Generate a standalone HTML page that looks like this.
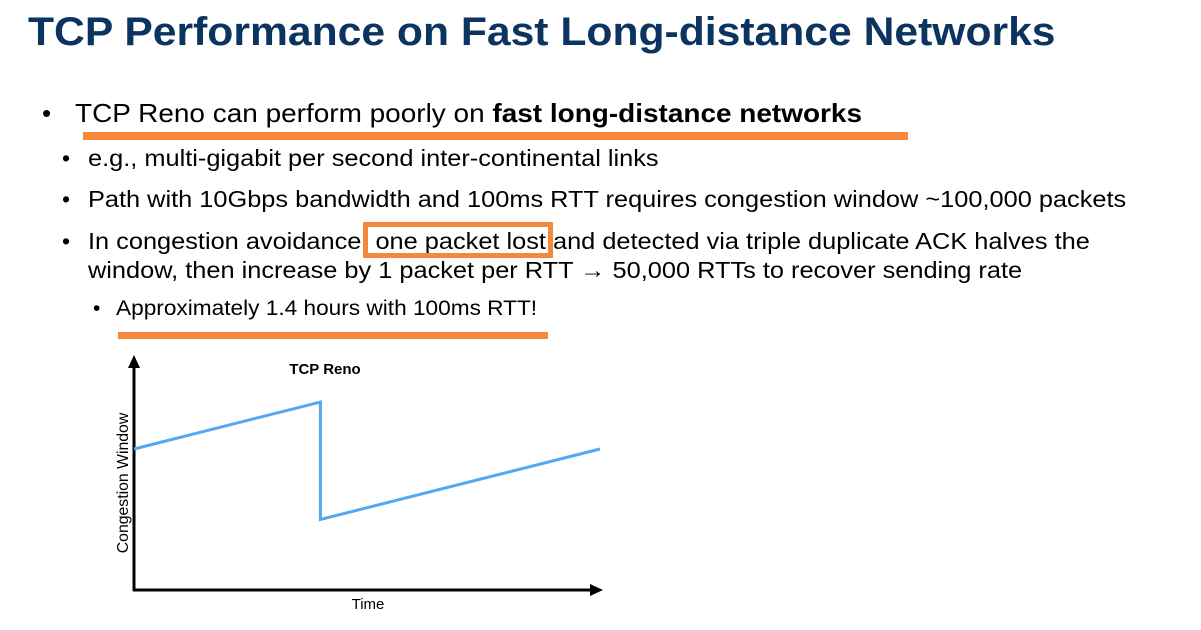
<!DOCTYPE html>
<html><head><meta charset="utf-8">
<style>
body{margin:0;width:1201px;height:630px;background:#fff;position:relative;overflow:hidden;font-family:"Liberation Sans",Arial,sans-serif;color:#000}
.a{position:absolute;white-space:nowrap;transform-origin:0 0}
.t{left:28px;top:10px;font-size:40px;font-weight:bold;color:#0b3560;transform:scaleX(1.066)}
.l1{font-size:26px;transform:scaleX(1.075)}
.l2{font-size:23px;transform:scaleX(1.102)}
.l3{font-size:21px;transform:scaleX(1.078)}
.bar{position:absolute;background:#f5883a}
</style></head><body>
<div class="a t">TCP Performance on Fast Long-distance Networks</div>

<div class="a" style="left:42px;top:98px;font-size:26px">•</div>
<div class="a l1" style="left:75px;top:98px">TCP Reno can perform poorly on <b>fast long-distance networks</b></div>
<div class="bar" style="left:83px;top:132px;width:825px;height:8px"></div>

<div class="a" style="left:62px;top:145px;font-size:23px">•</div>
<div class="a l2" style="left:88px;top:145px">e.g., multi-gigabit per second inter-continental links</div>
<div class="a" style="left:62px;top:186px;font-size:23px">•</div>
<div class="a l2" style="left:88px;top:186px">Path with 10Gbps bandwidth and 100ms RTT requires congestion window ~100,000 packets</div>
<div class="a" style="left:62px;top:228px;font-size:23px">•</div>
<div class="a l2" style="left:88px;top:228px">In congestion avoidance&nbsp; one packet lost and detected via triple duplicate ACK halves the</div>
<div class="a l2" style="left:88px;top:257px">window, then increase by 1 packet per RTT → 50,000 RTTs to recover sending rate</div>
<div style="position:absolute;left:363px;top:222px;width:180px;height:26px;border:5px solid #f5883a"></div>

<div class="a" style="left:93px;top:297px;font-size:21px">•</div>
<div class="a l3" style="left:116px;top:297px">Approximately 1.4 hours with 100ms RTT!</div>
<div class="bar" style="left:118px;top:332px;width:430px;height:7px"></div>

<svg id="chart" style="position:absolute;left:0;top:0" width="1201" height="630">
<text x="325" y="374" font-size="15" font-weight="bold" text-anchor="middle" font-family="Liberation Sans">TCP Reno</text>
<line x1="134" y1="591" x2="134" y2="365" stroke="#000" stroke-width="3"/>
<polygon points="134,355 128,368 140,368" fill="#000"/>
<line x1="133" y1="590" x2="592" y2="590" stroke="#000" stroke-width="3"/>
<polygon points="603,590 590,584 590,596" fill="#000"/>
<text x="368" y="609" font-size="15" text-anchor="middle" font-family="Liberation Sans">Time</text>
<text transform="translate(128,483) rotate(-90)" font-size="15.8" text-anchor="middle" font-family="Liberation Sans">Congestion Window</text>
</svg>
<script>
const times=[0,40,40,100];
const cwnd=[60,80,30,60];
const xs=t=>134+t*4.66;
const ys=v=>590-v*2.35;
const svg=document.getElementById('chart');
const pl=document.createElementNS('http://www.w3.org/2000/svg','polyline');
pl.setAttribute('points',times.map((t,i)=>xs(t)+','+ys(cwnd[i])).join(' '));
pl.setAttribute('fill','none');
pl.setAttribute('stroke','#55a8ef');
pl.setAttribute('stroke-width','3');


svg.appendChild(pl);
</script>
</body></html>
